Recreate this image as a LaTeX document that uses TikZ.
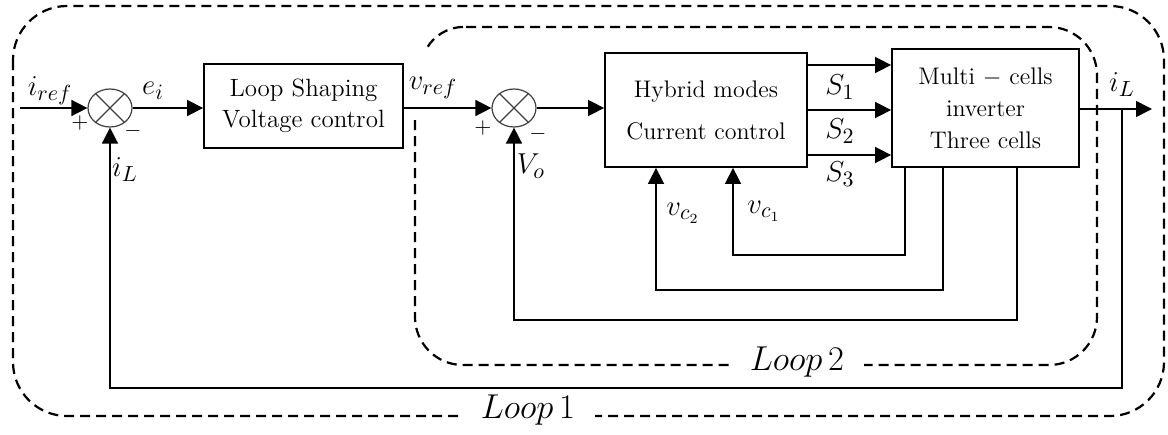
\documentclass[tikz,border=0pt]{standalone}
\usetikzlibrary{arrows.meta,shapes.geometric,calc}
\begin{document}
\begin{tikzpicture}[x=0.5pt,y=-0.5pt,
  blk/.style={draw,line width=0.9pt,align=center,inner sep=0pt},
  sumj/.style={draw=black!75,line width=0.6pt,ellipse,minimum width=22pt,minimum height=19pt,inner sep=0pt},
  arr/.style={-{Triangle[length=8pt,width=8pt]},line width=0.8pt},
  fb/.style={line width=0.8pt},
  loopdash/.style={line width=1.1pt,dash pattern=on 5pt off 3pt},
  mlab/.style={font=\fontsize{15}{18}\selectfont,inner sep=1pt},
  sgn/.style={font=\fontsize{11}{13}\selectfont,inner sep=0pt},
  looplab/.style={font=\fontsize{16}{19}\selectfont,fill=white,inner ysep=5pt,inner xsep=10pt}]
\useasboundingbox (0,0) rectangle (1168,434);

% loop boundaries (the inner one stays open behind the v_ref label)
\draw[loopdash,rounded corners=27pt] (13,6) rectangle (1164,416);
\coordinate (ltop) at (463,27);
\coordinate (lend) at (427,48);
\draw[loopdash,rounded corners=24pt] (415,120) -- (415,365) -- (1097,365)
  -- (1097,27) -- (ltop);
\draw[loopdash] (ltop) .. controls (447,27) and (433,37) .. (lend);
\node[looplab] (loopone) at (528,410) {$Loop\,1$};
\node[looplab] (looptwo) at (797,362) {$Loop\,2$};

% blocks
\node[blk,minimum width=99.5pt,minimum height=42pt,font=\fontsize{12.5}{15.5}\selectfont]
  (b1) at (303.5,106) {Loop Shaping\\Voltage control};
\node[blk,minimum width=101pt,minimum height=57pt,font=\fontsize{12}{21}\selectfont]
  (b2) at (706,110) {Hybrid modes\\Current control};
\node[blk,minimum width=93.5pt,minimum height=59pt,font=\fontsize{12}{16}\selectfont]
  (b3) at (985.5,108) {Multi $-$ cells\\inverter\\Three cells};

% summing junctions
\node[sumj] (s1) at (110,108) {};
\draw[black!75,line width=0.6pt] (s1.45) -- (s1.225) (s1.135) -- (s1.315);
\node[sumj] (s2) at (514,108) {};
\draw[black!75,line width=0.6pt] (s2.45) -- (s2.225) (s2.135) -- (s2.315);

% forward path
\coordinate (in) at (20,108);
\coordinate (out) at (1152,109);
\coordinate (tap) at (1122,109);
\draw[arr] (in) -- (s1.west);
\draw[arr] (s1.east) -- (b1.west |- s1.east);
\node[mlab] (vref) at (433,88) {$v_{ref}$};
\draw[arr] (b1.east |- s2.west) -- (s2.west);
\draw[arr] (s2.east) -- (b2.west |- s2.east);
\draw[arr] (b2.east |- 0,65) -- (b3.west |- 0,65);
\draw[arr] (b2.east |- 0,110) -- (b3.west |- 0,110);
\draw[arr] (b2.east |- 0,155) -- (b3.west |- 0,155);
\draw[arr] (b3.east |- out) -- (out);

% feedback paths
\draw[arr,fb] (tap) -- (tap |- 0,388) -| (s1.south);
\draw[arr,fb] (b3.south -| 1017,0) -- (1017,320) -| (s2.south);
\draw[arr,fb] (b3.south -| 943,0) -- (943,290) -| (b2.south -| 656,0);
\draw[arr,fb] (b3.south -| 905,0) -- (905,255) -| (b2.south -| 733,0);

% signal labels
\node[mlab] (iref) at (50,91) {$i_{ref}$};
\node[sgn] (p1) at (80,123) {$+$};
\node[sgn] (m1) at (133,131) {$-$};
\node[mlab] (ei) at (153,91) {$e_i$};
\node[mlab] (il1) at (125,170) {$i_L$};
\node[sgn] (p2) at (483,128) {$+$};
\node[sgn] (m2) at (538,134) {$-$};
\node[mlab] (vo) at (531,166) {$V_o$};
\node[mlab] (sa) at (840,87) {$S_1$};
\node[mlab] (sb) at (840,131) {$S_2$};
\node[mlab] (sc) at (840,174) {$S_3$};
\node[mlab] (vc2) at (683,213) {$v_{c_2}$};
\node[mlab] (vc1) at (764,211) {$v_{c_1}$};
\node[mlab] (il2) at (1122,85) {$i_L$};
\end{tikzpicture}
\end{document}
